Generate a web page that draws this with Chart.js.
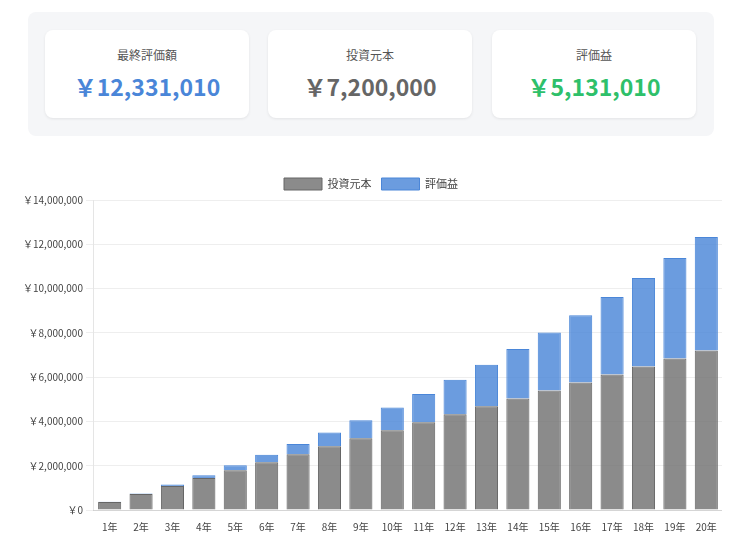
<!DOCTYPE html>
<html><head><meta charset="utf-8">
<script src="https://cdn.jsdelivr.net/npm/chart.js@4"></script>
<style>
body{margin:0;background:#fff;font-family:"Noto Sans CJK JP","Noto Sans",sans-serif;}
.box{position:absolute;left:28px;top:12px;width:686px;height:124px;background:#f5f6f8;border-radius:8px;}
.card{position:absolute;top:18px;width:204px;height:88px;background:#fff;border-radius:8px;box-shadow:0 1px 3px rgba(0,0,0,0.08);text-align:center;}
.lab{margin-top:16px;font-size:12px;color:#555;}
.val{margin-top:6px;font-size:23px;font-weight:bold;font-family:"Noto Sans CJK JP",sans-serif;}
#wrap{position:absolute;left:20px;top:168px;width:702px;height:368px;}
</style></head><body>
<div class="box">
<div class="card" style="left:17px"><div class="lab">最終評価額</div><div class="val" style="color:#4a86d8">￥12,331,010</div></div>
<div class="card" style="left:240px"><div class="lab">投資元本</div><div class="val" style="color:#666">￥7,200,000</div></div>
<div class="card" style="left:464px"><div class="lab">評価益</div><div class="val" style="color:#2ec06a">￥5,131,010</div></div>
</div>
<div id="wrap"><canvas id="c"></canvas></div>
<script>
const years=["1年","2年","3年","4年","5年","6年","7年","8年","9年","10年","11年","12年","13年","14年","15年","16年","17年","18年","19年","20年"];
const principal=[360000,720000,1080000,1440000,1800000,2160000,2520000,2880000,3240000,3600000,3960000,4320000,4680000,5040000,5400000,5760000,6120000,6480000,6840000,7200000];
const gains=[10000,30000,70000,130000,220000,330000,460000,620000,810000,1030000,1280000,1560000,1880000,2230000,2620000,3040000,3500000,4000000,4540000,5131010];
Chart.defaults.font.family='"Noto Sans CJK JP","Noto Sans",sans-serif';
new Chart(document.getElementById('c'),{type:'bar',
data:{labels:years,datasets:[
{label:'投資元本',data:principal,backgroundColor:'rgba(110,110,110,0.8)',borderColor:'#666',borderWidth:1},
{label:'評価益',data:gains,backgroundColor:'rgba(74,134,216,0.82)',borderColor:'#4a86d8',borderWidth:1}]},
options:{responsive:true,maintainAspectRatio:false,animation:false,
datasets:{bar:{barPercentage:0.8,categoryPercentage:0.92}},
plugins:{legend:{labels:{boxWidth:38,boxHeight:12,font:{size:11},color:'#444'}}},
scales:{x:{stacked:true,grid:{display:false},ticks:{font:{size:10},color:'#444'}},
y:{stacked:true,min:0,max:14000000,ticks:{stepSize:2000000,font:{size:10},color:'#444',callback:v=>'￥'+v.toLocaleString('en-US')},grid:{color:'#eee'}}}}});
</script></body></html>
